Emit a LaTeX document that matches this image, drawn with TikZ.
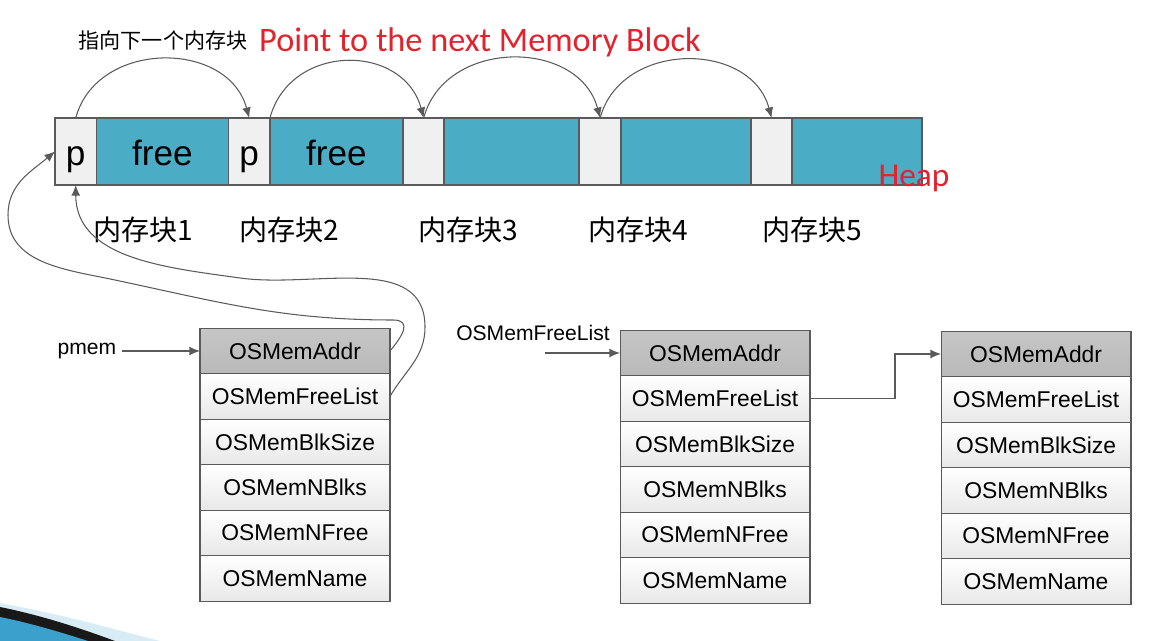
\documentclass[tikz,border=0pt]{standalone}
\usepackage{fontspec}
\setmainfont{Liberation Sans}
\newfontfamily\cjk{Noto Sans CJK SC}
\newfontfamily\cali{Carlito}
\usetikzlibrary{arrows.meta,positioning}
\definecolor{heapblue}{RGB}{75,172,198}
\definecolor{cellgray}{RGB}{240,240,240}
\definecolor{linegray}{RGB}{90,90,90}
\definecolor{notered}{RGB}{226,35,45}
\definecolor{swooshblue}{RGB}{60,160,205}

\begin{document}
\begin{tikzpicture}[x=0.02cm, y=0.02cm,
  seg/.style={draw=linegray, line width=1.1pt, minimum height=1.34cm, inner sep=0pt, outer sep=0pt, text height=20pt, text depth=4pt, font=\fontsize{20}{24}\selectfont},
  hdr/.style={seg, fill=cellgray, minimum width=0.83cm},
  blk/.style={seg, fill=heapblue},
  fieldcell/.style={draw=linegray, line width=0.6pt, top color=white, bottom color=gray!18, minimum width=3.8cm, minimum height=0.91cm, inner sep=0pt, outer sep=0pt, font=\fontsize{13}{15}\selectfont},
  addrcell/.style={fieldcell, top color=gray!45, bottom color=gray!55},
  link/.style={draw=linegray, line width=0.6pt, -{Latex[length=6pt,width=5pt]}},
  blklabel/.style={font=\cjk\fontsize{16}{18}\selectfont}]
  \useasboundingbox (0,0) rectangle (1168,-641);

  % heap
  \node (p1) [hdr, anchor=north west] at (55,-118) {p};
  \node (free1) [blk, right=0pt of p1, minimum width=2.64cm] {free};
  \node (p2) [hdr, right=0pt of free1] {p};
  \node (free2) [blk, right=0pt of p2, minimum width=2.66cm] {free};
  \node (p3) [hdr, right=0pt of free2] {};
  \node (free3) [blk, right=0pt of p3, minimum width=2.7cm] {};
  \node (p4) [hdr, right=0pt of free3] {};
  \node (free4) [blk, right=0pt of p4, minimum width=2.6cm] {};
  \node (p5) [hdr, right=0pt of free4] {};
  \node (free5) [blk, right=0pt of p5, minimum width=2.6cm] {};
  \node (heap) at (914,-178) [text=notered, font=\cali\fontsize{19}{22}\selectfont] {Heap};

  \node (lab1) [blklabel] at (143,-230) {内存块1};
  \node (lab2) [blklabel] at (289,-230) {内存块2};
  \node (lab3) [blklabel] at (468,-230) {内存块3};
  \node (lab4) [blklabel] at (638,-230) {内存块4};
  \node (lab5) [blklabel] at (812,-230) {内存块5};

  \node (hint) at (163,-40) [font=\cjk\fontsize{12}{14}\selectfont] {指向下一个内存块};
  \node (hinten) at (480,-42) [text=notered, font=\cali\fontsize{19.5}{22}\selectfont] {Point to the next Memory Block};

  \draw[link] (p1.north) to[out=75,in=105,looseness=1.2] (p2.north);
  \draw[link] (p2.north east) to[out=75,in=105,looseness=1.3] (p3.north);
  \draw[link] (p3.north) to[out=75,in=105,looseness=1.2] (p4.north);
  \draw[link] (p4.north) to[out=75,in=105,looseness=1.2] (p5.north);

  % first pool
  \node (a1) [addrcell] at (295,-351) {OSMemAddr};
  \node (a2) [fieldcell, below=0pt of a1] {OSMemFreeList};
  \node (a3) [fieldcell, below=0pt of a2] {OSMemBlkSize};
  \node (a4) [fieldcell, below=0pt of a3] {OSMemNBlks};
  \node (a5) [fieldcell, below=0pt of a4] {OSMemNFree};
  \node (a6) [fieldcell, below=0pt of a5] {OSMemName};

  \node (pmem) at (87,-351) [font=\fontsize{12}{14}\selectfont] {pmem};
  \draw[link] (pmem.east) -- (a1.west);

  \draw[link] (a1.east) to[out=50,in=0,looseness=1.6] (393,-320) to[out=180,in=-12] (115,-280) to[out=168,in=-90] (8,-215) to[out=90,in=-140] (p1.west);
  \draw[link] (a2.east) to[out=60,in=-90] (425,-327) to[out=90,in=-8] (240,-278) to[out=172,in=-90] (p1.south);

  % second pool
  \node (b1) [addrcell] at (715,-353) {OSMemAddr};
  \node (b2) [fieldcell, below=0pt of b1] {OSMemFreeList};
  \node (b3) [fieldcell, below=0pt of b2] {OSMemBlkSize};
  \node (b4) [fieldcell, below=0pt of b3] {OSMemNBlks};
  \node (b5) [fieldcell, below=0pt of b4] {OSMemNFree};
  \node (b6) [fieldcell, below=0pt of b5] {OSMemName};

  \node (freelist) at (533,-333) [font=\fontsize{12}{14}\selectfont] {OSMemFreeList};
  \coordinate (flstart) at (545,-353);
  \draw[link] (flstart) -- (b1.west);

  % third pool
  \node (c1) [addrcell] at (1036,-354) {OSMemAddr};
  \node (c2) [fieldcell, below=0pt of c1] {OSMemFreeList};
  \node (c3) [fieldcell, below=0pt of c2] {OSMemBlkSize};
  \node (c4) [fieldcell, below=0pt of c3] {OSMemNBlks};
  \node (c5) [fieldcell, below=0pt of c4] {OSMemNFree};
  \node (c6) [fieldcell, below=0pt of c5] {OSMemName};

  \draw[link] (b2.east) -- ++(85,0) |- (c1.west);

  % slide corner
  \fill[swooshblue!20] (0,-603) .. controls (60,-614) and (110,-628) .. (160,-641) -- (0,-641) -- cycle;
  \fill[black!90] (0,-607) .. controls (40,-615) and (80,-628) .. (115,-641) -- (0,-641) -- cycle;
  \fill[swooshblue] (0,-617) .. controls (30,-623) and (60,-632) .. (88,-641) -- (0,-641) -- cycle;
\end{tikzpicture}
\end{document}
